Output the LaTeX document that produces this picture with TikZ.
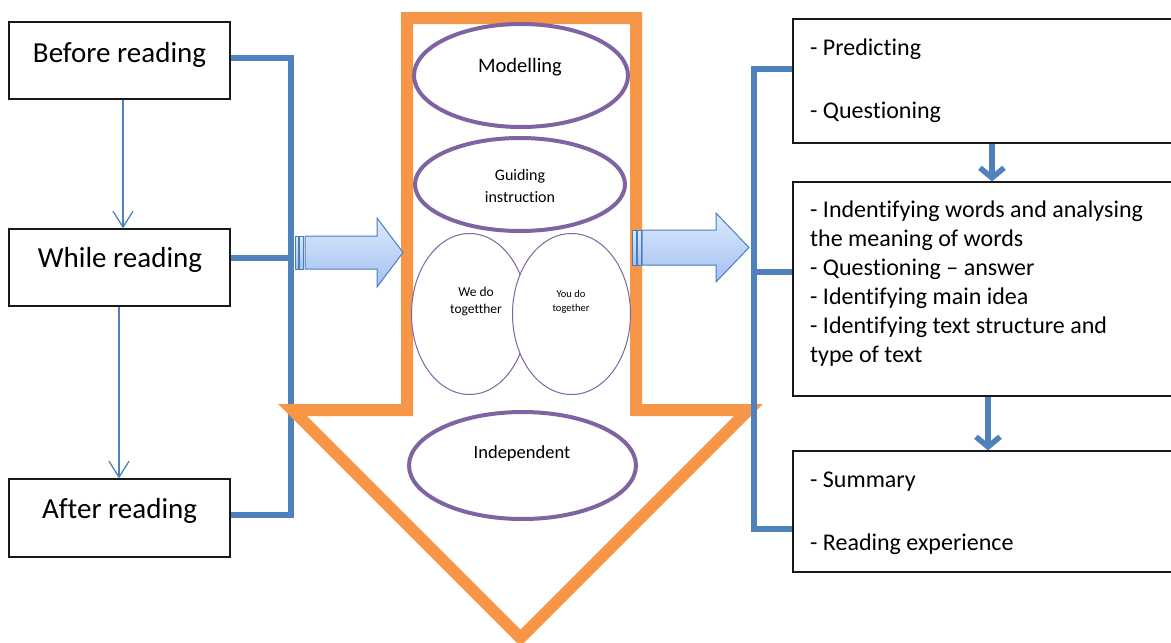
\documentclass[tikz,border=0pt]{standalone}
\usepackage{fontspec}
\setmainfont{Carlito}[Ligatures=NoCommon]
\usetikzlibrary{arrows.meta,shapes.geometric}
\definecolor{obl}{HTML}{4F81BD}
\definecolor{oor}{HTML}{F79646}
\definecolor{opu}{HTML}{8064A2}
\definecolor{abord}{HTML}{4A7EBB}
\definecolor{atop}{HTML}{DDE9FC}
\definecolor{abot}{HTML}{A3C1F2}
\begin{document}
\begin{tikzpicture}[x=1pt,y=-1pt,
 box/.style={draw=black!90, line width=1.2pt, rectangle, inner sep=0pt},
 lbl/.style={inner sep=0pt, anchor=base},
 bigtxt/.style={font=\fontsize{29}{35}\selectfont},
 rtxt/.style={font=\fontsize{24}{29}\selectfont, anchor=base west, inner sep=0pt},
 brk/.style={draw=obl, line width=6pt},
 thinarr/.style={draw=obl, line width=1.3pt, -{Straight Barb[length=16pt,width=20pt]}},
 thickarr/.style={draw=obl, line width=5.5pt, -{Straight Barb[length=10pt,width=24pt]}},
 ell/.style={draw=opu, ellipse, fill=white, inner sep=0pt},
 blockarr/.style={draw=abord, line width=1pt, top color=atop, bottom color=abot},
]
\useasboundingbox (0,0) rectangle (1171,643);
\fill[white] (0,0) rectangle (1171,643);

% left boxes
\node[box, minimum width=221pt, minimum height=77pt] (bb) at (119.5,60.5) {};
\node[box, minimum width=221pt, minimum height=77pt] (wb) at (119.5,267.5) {};
\node[box, minimum width=221pt, minimum height=78pt] (ab) at (119.5,518) {};
\node[lbl, bigtxt] (bbt) at (119.5,62) {Before reading};
\node[lbl, bigtxt] (wbt) at (120,267) {While reading};
\node[lbl, bigtxt] (abt) at (119.5,518) {After reading};

\draw[thinarr] ([xshift=3.5pt]bb.south) -- ([xshift=3.5pt]wb.north);
\draw[thinarr] ([xshift=-0.5pt]wb.south) -- ([xshift=-0.5pt]ab.north);

% left bracket
\coordinate (lb1) at (291,58);
\coordinate (lb2) at (291,258);
\coordinate (lb3) at (291,515);
\draw[brk] (bb.east |- lb1) -- (lb1) -- (lb3) -- (ab.east |- lb3);
\draw[brk] (wb.east |- lb2) -- (lb2);

% orange down arrow outline
\draw[draw=oor, line width=12pt, line join=miter]
  (407,18) -- (636,18) -- (636,410) -- (748.5,410) -- (520.5,638) -- (292.5,410) -- (407,410) -- cycle;

% ellipses
\node[ell, line width=4pt, minimum width=214pt, minimum height=103pt] (mod) at (521,75.5) {};
\node[lbl, font=\fontsize{20.5}{24}\selectfont] (modt) at (520,72) {Modelling};
\node[ell, line width=4pt, minimum width=210pt, minimum height=93pt] (gui) at (520,184.5) {};
\node[lbl, font=\fontsize{16}{20}\selectfont] (guit1) at (520,180) {Guiding};
\node[lbl, font=\fontsize{16}{20}\selectfont] (guit2) at (520,202) {instruction};
\node[ell, line width=1pt, minimum width=116pt, minimum height=161pt] (we) at (469.5,314) {};
\node[ell, line width=1pt, minimum width=118pt, minimum height=161pt] (you) at (571.5,314) {};
\node[lbl, font=\fontsize{13.5}{17}\selectfont] (wet1) at (476,296) {We do};
\node[lbl, font=\fontsize{13.5}{17}\selectfont] (wet2) at (476,313) {togetther};
\node[lbl, font=\fontsize{10.5}{13}\selectfont] (yout1) at (571,297) {You do};
\node[lbl, font=\fontsize{10.5}{13}\selectfont] (yout2) at (571,311) {together};
\node[ell, line width=4pt, minimum width=227pt, minimum height=107pt] (ind) at (522.5,465.5) {};
\node[lbl, font=\fontsize{18.5}{22}\selectfont] (indt) at (522,458) {Independent};

% block arrows
\draw[blockarr] (295,236) rectangle (298,269);
\draw[blockarr] (299.5,236) rectangle (303,269);
\draw[blockarr] (305,236) -- (377,236) -- (377,218) -- (403,252.5) -- (377,287) -- (377,269) -- (305,269) -- cycle;
\draw[blockarr] (632,230) rectangle (636.5,265);
\draw[blockarr] (637.5,230) rectangle (641,265);
\draw[blockarr] (642,230) -- (716,230) -- (716,213) -- (749,247.5) -- (716,282) -- (716,265) -- (642,265) -- cycle;

% right boxes
\node[box, minimum width=382pt, minimum height=124pt] (r1) at (984,81) {};
\node[box, minimum width=382pt, minimum height=214pt] (r2) at (984,289) {};
\node[box, minimum width=382pt, minimum height=121pt] (r3) at (984,511.5) {};

\node[rtxt] (r1a) at (810,55) {- Predicting};
\node[rtxt] (r1b) at (810,118) {- Questioning};
\node[rtxt] (r2a) at (810,217) {- Indentifying words and analysing};
\node[rtxt] (r2b) at (810,246) {the meaning of words};
\node[rtxt] (r2c) at (810,275) {- Questioning – answer};
\node[rtxt] (r2d) at (810,304) {- Identifying main idea};
\node[rtxt] (r2e) at (810,333) {- Identifying text structure and};
\node[rtxt] (r2f) at (810,362) {type of text};
\node[rtxt] (r3a) at (810,487) {- Summary};
\node[rtxt] (r3b) at (810,550) {- Reading experience};

\draw[thickarr] ([xshift=8pt]r1.south) -- ([xshift=8pt]r2.north);
\draw[thickarr] ([xshift=4pt]r2.south) -- ([xshift=4pt]r3.north);

% right bracket
\coordinate (rb1) at (753.5,69);
\coordinate (rb2) at (753.5,272);
\coordinate (rb3) at (753.5,529);
\draw[brk] (r1.west |- rb1) -- (rb1) -- (rb3) -- (r3.west |- rb3);
\draw[brk] (rb2) -- (r2.west |- rb2);
\end{tikzpicture}
\end{document}
